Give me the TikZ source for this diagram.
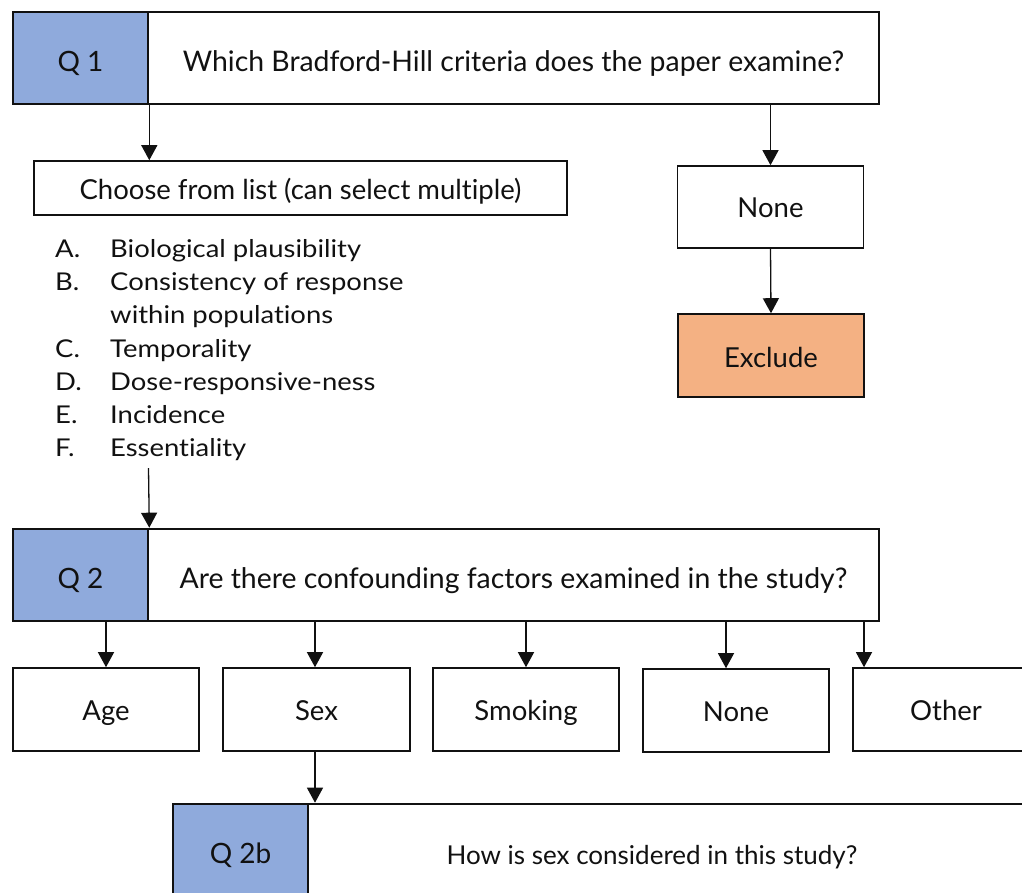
\documentclass[tikz,border=0pt]{standalone}
\usepackage{fontspec}
\setmainfont[Ligatures=NoCommon]{Lato}
\newfontfamily\listfont[FakeStretch=1.12,Ligatures=NoCommon]{Lato}
\usetikzlibrary{arrows.meta}

\definecolor{qblue}{HTML}{8FAADC}
\definecolor{exorange}{HTML}{F4B183}
\definecolor{ink}{HTML}{111111}

\tikzset{
  every node/.style={text=ink},
  qlab/.style={draw=ink, line width=2.6pt, fill=qblue, minimum width=135pt,
    minimum height=92pt, inner sep=0pt, text height=26pt, text depth=0pt,
    font=\fontsize{28}{32}\selectfont},
  qtext/.style={draw=ink, line width=2.6pt, fill=white, minimum height=92pt,
    inner sep=0pt, text height=26pt, text depth=0pt,
    font=\fontsize{28.4}{32}\selectfont},
  optbox/.style={draw=ink, line width=1.6pt, fill=white, minimum width=186pt,
    minimum height=83pt, inner sep=0pt, text height=21pt, text depth=0pt,
    font=\fontsize{27.5}{32}\selectfont},
  listline/.style={anchor=base west, inner sep=0pt,
    font=\listfont\fontsize{24.5}{30}\selectfont},
  arr/.style={draw=ink, line width=1.3pt, -{Triangle[length=15pt,width=16pt]}},
}

\begin{document}
\begin{tikzpicture}[x=1pt,y=-1pt]
\useasboundingbox (0,0) rectangle (1022,892);
\clip (0,0) rectangle (1022,892);

% Question 1
\node[qtext, minimum width=731pt] (q1t) at (513.5,58) {Which Bradford-Hill criteria does the paper examine?};
\node[qlab] (q1l) at (80.5,58) {Q 1};

% Options under question 1
\node[optbox, minimum width=533pt, minimum height=54pt, text height=22pt] (choose) at (300.5,188) {Choose from list (can select multiple)};
\node[optbox, minimum height=82pt] (none1) at (770.5,207) {None};
\node[optbox, fill=exorange, text height=23pt] (excl) at (771,355.5) {Exclude};

% Criteria list
\node[listline] (la) at (55,257) {\makebox[55pt][l]{A.}Biological plausibility};
\node[listline] (lb) at (55,290.3) {\makebox[55pt][l]{B.}Consistency of response};
\node[listline] (lb2) at (55,323.6) {\hspace*{55pt}within populations};
\node[listline] (lc) at (55,357) {\makebox[55pt][l]{C.}Temporality};
\node[listline] (ld) at (55,390.2) {\makebox[55pt][l]{D.}Dose-responsive-ness};
\node[listline] (le) at (55,423.5) {\makebox[55pt][l]{E.}Incidence};
\node[listline] (lf) at (55,456.8) {\makebox[55pt][l]{F.}Essentiality};
\coordinate (listend) at (148.5,468);

% Question 2
\node[qtext, minimum width=731pt] (q2t) at (513.5,575) {Are there confounding factors examined in the study?};
\node[qlab] (q2l) at (80.5,575) {Q 2};

% Confounders
\node[optbox] (age) at (106,709.5) {Age};
\node[optbox, minimum width=187pt] (sex) at (316.5,709.5) {Sex};
\node[optbox] (smok) at (526,709.5) {Smoking};
\node[optbox] (none2) at (736,710.5) {None};
\node[optbox] (other) at (946,709.5) {Other};

% Question 2b
\node[qtext, minimum width=760pt] (q2bt) at (688,850) {};
\node[qlab] (q2bl) at (240.5,850) {Q 2b};
\node[inner sep=0pt, text height=28pt, text depth=0pt, font=\fontsize{26}{30}\selectfont] (q2bq) at (652,850) {How is sex considered in this study?};

% Connectors
\draw[arr] (q1l.south east) -- (q1l.south east |- choose.north);
\draw[arr] (none1.north |- q1t.south) -- (none1.north);
\draw[arr] (none1.south) -- (excl.north);
\draw[arr] (listend) -- (q2l.north east);
\draw[arr] (age.north |- q2l.south) -- (age.north);
\draw[arr] ([xshift=-1.5pt]sex.north |- q2t.south) -- ([xshift=-1.5pt]sex.north);
\draw[arr] (smok.north |- q2t.south) -- (smok.north);
\draw[arr] ([xshift=-10pt]none2.north |- q2t.south) -- ([xshift=-10pt]none2.north);
\draw[arr] ([xshift=-82pt]other.north |- q2t.south) -- ([xshift=-82pt]other.north);
\draw[arr] ([xshift=-1.5pt]sex.south) -- ([xshift=-1.5pt]sex.south |- q2bl.north);
\end{tikzpicture}
\end{document}
